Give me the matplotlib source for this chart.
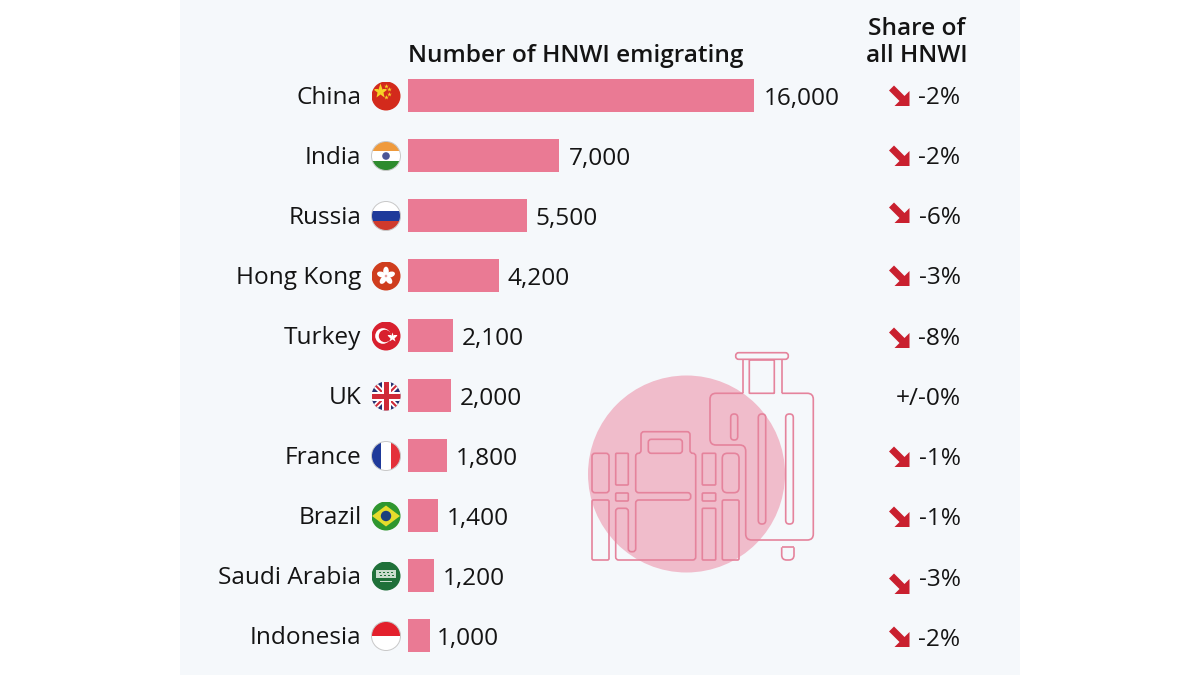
import matplotlib
matplotlib.use('Agg')
import matplotlib.pyplot as plt
from matplotlib.patches import Circle, Ellipse, Rectangle, Polygon, PathPatch
from matplotlib.path import Path

plt.rcParams['font.family'] = ['Open Sans', 'DejaVu Sans']

countries = ['China', 'India', 'Russia', 'Hong Kong', 'Turkey', 'UK', 'France', 'Brazil', 'Saudi Arabia', 'Indonesia']
emigrating = [16000, 7000, 5500, 4200, 2100, 2000, 1800, 1400, 1200, 1000]
shares = ['-2%', '-2%', '-6%', '-3%', '-8%', '+/-0%', '-1%', '-1%', '-3%', '-2%']
falling = [True, True, True, True, True, False, True, True, True, True]

PANEL = '#f5f8fb'
BAR = '#ea7a94'
LINE = '#e5839c'
TXT = '#141414'
RED = '#c9202f'

fig = plt.figure(figsize=(12, 6.75), dpi=100, facecolor='white')

# overlay in pixel coords for all the decoration
ov = fig.add_axes([0, 0, 1, 1], zorder=1)
ov.set_xlim(0, 1200)
ov.set_ylim(675, 0)
ov.axis('off')
ov.add_patch(Rectangle((180, 0), 840, 675, fc=PANEL, ec='none'))

# bars: row i sits at pixel 95.5 + 60 i
bx = fig.add_axes([408 / 1200, 0, 346 / 1200, 1], zorder=2)
bx.patch.set_alpha(0)
bx.set_xlim(0, 16000)
bx.set_ylim((675 - 95.5) / 60, -95.5 / 60)
bx.axis('off')
bx.barh(range(len(countries)), emigrating, height=33.5 / 60, color=BAR)

tx = fig.add_axes([0, 0, 1, 1], zorder=3)
tx.patch.set_alpha(0)
tx.set_xlim(0, 1200)
tx.set_ylim(675, 0)
tx.axis('off')


def outline(pts, r=3, closed=True):
    # polyline with rounded corners
    n = len(pts)
    verts, codes = [], []
    for i, (x, y) in enumerate(pts):
        if not closed and i in (0, n - 1):
            verts.append((x, y))
            codes.append(Path.MOVETO if i == 0 else Path.LINETO)
            continue
        px, py = pts[i - 1]
        nx, ny = pts[(i + 1) % n]
        d1 = max(abs(x - px), abs(y - py))
        d2 = max(abs(x - nx), abs(y - ny))
        a = min(r, d1 / 2) / d1
        b = min(r, d2 / 2) / d2
        start = (x + (px - x) * a, y + (py - y) * a)
        end = (x + (nx - x) * b, y + (ny - y) * b)
        verts.append(start)
        codes.append(Path.LINETO if verts[:-1] else Path.MOVETO)
        verts += [(x, y), end]
        codes += [Path.CURVE3, Path.CURVE3]
    if closed:
        verts.append(verts[0])
        codes.append(Path.CLOSEPOLY)
    tx.add_patch(PathPatch(Path(verts, codes), fc='none', ec=LINE, lw=1.2))


def box(x0, y0, x1, y1, r=1.5):
    outline([(x0, y0), (x1, y0), (x1, y1), (x0, y1)], r)


def luggage():
    ov.add_patch(Circle((686.5, 474), 98.5, fc='#f0bccb', ec='none'))
    # big case
    box(735.7, 352.7, 788.3, 359.3, 3)
    outline([(743.3, 359.3), (743.3, 393.3)], 0, closed=False)
    outline([(781.7, 359.3), (781.7, 393.3)], 0, closed=False)
    box(749.3, 360, 774.3, 393.3, 0.5)
    outline([(743.3, 393.3), (710, 393.3), (710, 445), (745.7, 445), (745.7, 540),
             (813.3, 540), (813.3, 393.3), (781.7, 393.3)], 6, closed=False)
    box(730.7, 414, 737.7, 440, 3.4)
    box(758.3, 414, 765.7, 524, 3.6)
    box(785.7, 414, 793.3, 524, 3.6)
    outline([(781.7, 547.3), (781.7, 560), (794, 560), (794, 547.3)], 5, closed=False)
    outline([(781.7, 547.3), (794, 547.3)], 0, closed=False)
    # small case, left straps
    box(592, 453.3, 609, 492.7, 3)
    box(592, 500, 609, 560, 1.5)
    box(615.7, 453.3, 628.3, 485, 1)
    box(615.7, 493, 628.3, 501, 1)
    # body, with the strap that folds round the front
    outline([(615.7, 508.3), (615.7, 560), (695.7, 560), (695.7, 453.3), (690, 453.3),
             (690, 431.7), (641, 431.7), (641, 453.3), (635.7, 453.3), (635.7, 492.7),
             (690.7, 492.7), (690.7, 500), (635.7, 500), (635.7, 551.7), (628.3, 551.7),
             (628.3, 508.3)], 3)
    box(648.3, 439.3, 682.3, 453.3, 3)
    # small case, right straps
    box(702.3, 453.3, 715.7, 485, 1)
    box(702.3, 493, 715.7, 501, 1)
    box(702.3, 508.3, 715.7, 560, 1)
    outline([(722.3, 453.3), (739, 453.3), (739, 492.7), (722.3, 492.7)], 5)
    box(722.3, 500, 739, 560, 1.5)


luggage()


def flag(name, cx, cy, r=14.5):
    clip = Circle((cx, cy), r, transform=ov.transData)

    def add(p):
        ov.add_patch(p)
        p.set_clip_path(clip)

    def band(x0, y0, w, h, c):
        add(Rectangle((cx + x0, cy + y0), w, h, fc=c, ec='none'))

    def star(dx, dy, s, c):
        ln, = ov.plot([cx + dx], [cy + dy], marker='*', ms=s, color=c, mec='none', zorder=5)
        ln.set_clip_path(clip)

    if name == 'China':
        band(-r, -r, 2 * r, 2 * r, '#d32a1c')
        star(-6, -5, 11, '#f6d327')
        for dx, dy in [(0, -10), (3, -7), (3, -2), (0, 1)]:
            star(dx, dy, 3.5, '#f6d327')
    elif name == 'India':
        band(-r, -r, 2 * r, r * 2 / 3, '#ef9a3c')
        band(-r, -r / 3, 2 * r, r * 2 / 3, 'white')
        band(-r, r / 3, 2 * r, r * 2 / 3, '#2e8b2e')
        add(Circle((cx, cy), 3.8, fc='#4a5596', ec='none'))
    elif name == 'Russia':
        band(-r, -r, 2 * r, r * 2 / 3, 'white')
        band(-r, -r / 3, 2 * r, r * 2 / 3, '#1e3a9a')
        band(-r, r / 3, 2 * r, r * 2 / 3, '#cf3a2c')
    elif name == 'Hong Kong':
        band(-r, -r, 2 * r, 2 * r, '#cf3d1e')
        for k in range(5):
            add(Ellipse((cx, cy - 4.8), 5.6, 9, fc='white', ec='none',
                        transform=matplotlib.transforms.Affine2D().rotate_deg_around(cx, cy, 72 * k) + ov.transData))
        add(Circle((cx, cy), 1.3, fc='#e8a0a0', ec='none'))
    elif name == 'Turkey':
        band(-r, -r, 2 * r, 2 * r, '#d8202e')
        add(Circle((cx - 3, cy), 7.8, fc='white', ec='none'))
        add(Circle((cx - 1, cy), 6.2, fc='#d8202e', ec='none'))
        star(5.5, 0.5, 7, 'white')
    elif name == 'UK':
        band(-r, -r, 2 * r, 2 * r, '#27306f')
        for a, b in [(-r, r), (r, -r)]:
            l1, = ov.plot([cx - r, cx + r], [cy + a, cy + b], color='white', lw=4, zorder=3)
            l2, = ov.plot([cx - r, cx + r], [cy + a, cy + b], color='#cf2a38', lw=1.5, zorder=3)
            l1.set_clip_path(clip)
            l2.set_clip_path(clip)
        add(Rectangle((cx - 4.5, cy - r), 9, 2 * r, fc='white', ec='none', zorder=4))
        add(Rectangle((cx - r, cy - 4.5), 2 * r, 9, fc='white', ec='none', zorder=4))
        add(Rectangle((cx - 2.5, cy - r), 5, 2 * r, fc='#cf2a38', ec='none', zorder=4))
        add(Rectangle((cx - r, cy - 2.5), 2 * r, 5, fc='#cf2a38', ec='none', zorder=4))
    elif name == 'France':
        band(-r, -r, r * 2 / 3, 2 * r, '#1f3a9a')
        band(-r / 3, -r, r * 2 / 3, 2 * r, 'white')
        band(r / 3, -r, r * 2 / 3, 2 * r, '#e4303a')
    elif name == 'Brazil':
        band(-r, -r, 2 * r, 2 * r, '#2f962f')
        add(Polygon([(cx - 14, cy), (cx, cy - 10.5), (cx + 14, cy), (cx, cy + 10.5)], fc='#e6dc2c', ec='none'))
        add(Circle((cx, cy), 5.2, fc='#1c3f7c', ec='none'))
    elif name == 'Saudi Arabia':
        band(-r, -r, 2 * r, 2 * r, '#1f7039')
        band(-10, -6, 20, 8, '#c9dccd')
        for dx in [-7.5, -3.5, 0.5, 4.5]:
            band(dx, -4, 2, 1.2, '#1f7039')
            band(dx + 1.5, -1, 2, 1.2, '#1f7039')
        band(-6, 5, 12, 1.3, '#c9dccd')
    elif name == 'Indonesia':
        band(-r, -r, 2 * r, r, '#e3202c')
        band(-r, 0, 2 * r, r, 'white')
    if name in ('Russia', 'Indonesia', 'France', 'India'):
        ov.add_patch(Circle((cx, cy), r, fc='none', ec='#c8c8c8', lw=0.7, zorder=6))


def arrow(x, y):
    # points down and to the right, x/y = head tip
    pts = [(x, y), (x - 15, y), (x - 10, y - 5), (x - 20.5, y - 15.5), (x - 15.5, y - 20.5),
           (x - 5, y - 10), (x, y - 15)]
    tx.add_patch(Polygon(pts, fc=RED, ec='none'))


fs = 17.6
tx.text(408, 55.5, 'Number of HNWI emigrating', fontsize=17.6, fontweight=600, color=TXT, ha='left', va='center')
tx.text(917, 29, 'Share of', fontsize=17.6, fontweight=600, color=TXT, ha='center', va='center')
tx.text(917, 55.5, 'all HNWI', fontsize=17.6, fontweight=600, color=TXT, ha='center', va='center')

arrow_y = [106, 166, 223, 286, 348, 0, 467, 527, 594, 647]
share_y = [98, 158, 218, 278, 339, 399, 459, 519, 580, 640]
gaps = [9.5, 9.5, 8.5, 8.5, 8.5, 8.5, 8.5, 9, 9, 7]
for i, name in enumerate(countries):
    y = 95.5 + 60 * i
    tx.text(361.5, y + 2, name, fontsize=fs, color=TXT, ha='right', va='center')
    flag(name, 386, y + 0.5)
    end = 408 + emigrating[i] / 16000 * 346
    tx.text(end + gaps[i], y + 3, f'{emigrating[i]:,}', fontsize=fs, color=TXT, ha='left', va='center')
    tx.text(960.5, share_y[i], shares[i], fontsize=fs, color=TXT, ha='right', va='center')
    if falling[i]:
        arrow(909.5, arrow_y[i])

fig.savefig('out.png', dpi=100, facecolor='white')
